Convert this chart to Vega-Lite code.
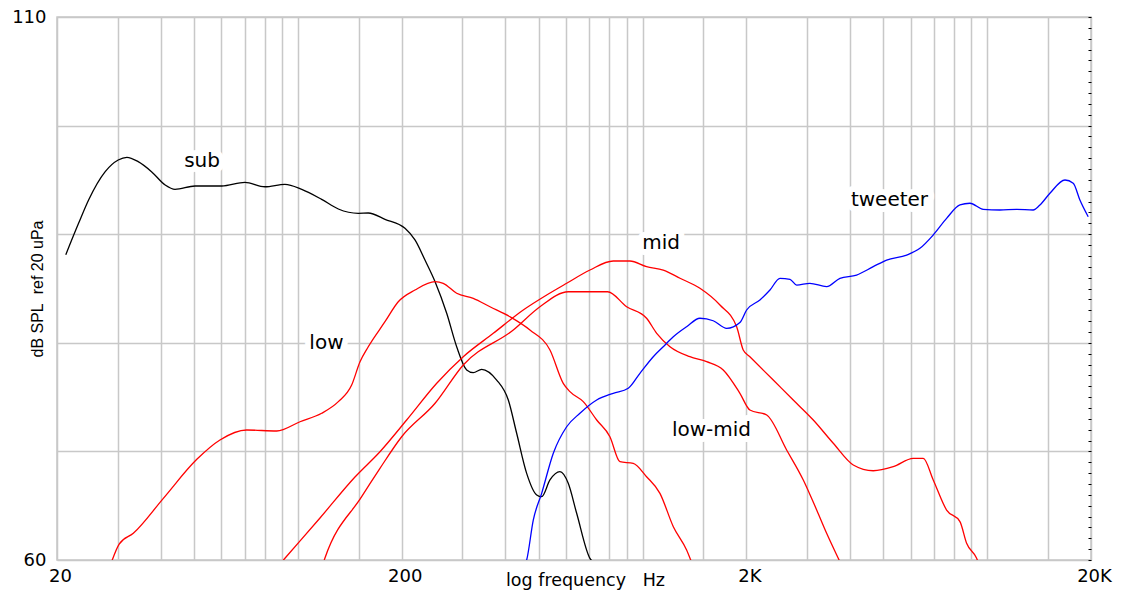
{
  "$schema": "https://vega.github.io/schema/vega-lite/v6.json",
  "width": 1034,
  "height": 543,
  "autosize": "none",
  "padding": {"left": 57, "top": 17, "right": 33, "bottom": 31},
  "background": "white",
  "config": {
    "view": {"stroke": "#c8c8c8", "strokeWidth": 1.5},
    "font": "DejaVu Sans"
  },
  "datasets": {
    "curves": [
      {"band": "sub", "freq": 21.2, "db": 88.1},
      {"band": "sub", "freq": 23.1, "db": 91.0},
      {"band": "sub", "freq": 24.7, "db": 93.15},
      {"band": "sub", "freq": 27.6, "db": 95.76},
      {"band": "sub", "freq": 30.1, "db": 96.83},
      {"band": "sub", "freq": 31.9, "db": 97.08},
      {"band": "sub", "freq": 34.4, "db": 96.68},
      {"band": "sub", "freq": 37.6, "db": 95.76},
      {"band": "sub", "freq": 41.2, "db": 94.53},
      {"band": "sub", "freq": 44.0, "db": 94.13},
      {"band": "sub", "freq": 50.3, "db": 94.44},
      {"band": "sub", "freq": 60.1, "db": 94.44},
      {"band": "sub", "freq": 70.2, "db": 94.78},
      {"band": "sub", "freq": 80.2, "db": 94.37},
      {"band": "sub", "freq": 91.7, "db": 94.59},
      {"band": "sub", "freq": 102.6, "db": 94.13},
      {"band": "sub", "freq": 117.2, "db": 93.21},
      {"band": "sub", "freq": 131, "db": 92.32},
      {"band": "sub", "freq": 149.7, "db": 91.92},
      {"band": "sub", "freq": 160, "db": 91.95},
      {"band": "sub", "freq": 178.9, "db": 91.37},
      {"band": "sub", "freq": 204.5, "db": 90.54},
      {"band": "sub", "freq": 218.6, "db": 89.47},
      {"band": "sub", "freq": 233.7, "db": 87.62},
      {"band": "sub", "freq": 250, "db": 85.63},
      {"band": "sub", "freq": 270.2, "db": 82.72},
      {"band": "sub", "freq": 288.8, "db": 79.64},
      {"band": "sub", "freq": 308.8, "db": 77.5},
      {"band": "sub", "freq": 322.7, "db": 77.25},
      {"band": "sub", "freq": 341.3, "db": 77.56},
      {"band": "sub", "freq": 377.3, "db": 76.57},
      {"band": "sub", "freq": 407.8, "db": 74.73},
      {"band": "sub", "freq": 431.2, "db": 71.67},
      {"band": "sub", "freq": 461, "db": 67.98},
      {"band": "sub", "freq": 493, "db": 65.99},
      {"band": "sub", "freq": 509.6, "db": 65.83},
      {"band": "sub", "freq": 538.6, "db": 67.37},
      {"band": "sub", "freq": 575.8, "db": 68.13},
      {"band": "sub", "freq": 608.6, "db": 67.06},
      {"band": "sub", "freq": 643.8, "db": 64.3},
      {"band": "sub", "freq": 703.6, "db": 60.15},
      {"band": "sub", "freq": 727.6, "db": 59.7},
      {"band": "low", "freq": 28.7, "db": 59.7},
      {"band": "low", "freq": 30.3, "db": 61.47},
      {"band": "low", "freq": 33.3, "db": 62.46},
      {"band": "low", "freq": 40.7, "db": 65.68},
      {"band": "low", "freq": 50.9, "db": 69.27},
      {"band": "low", "freq": 59.4, "db": 71.05},
      {"band": "low", "freq": 71.0, "db": 71.97},
      {"band": "low", "freq": 86.8, "db": 71.88},
      {"band": "low", "freq": 101.4, "db": 72.73},
      {"band": "low", "freq": 117.2, "db": 73.51},
      {"band": "low", "freq": 131, "db": 74.58},
      {"band": "low", "freq": 143.2, "db": 76.11},
      {"band": "low", "freq": 151.4, "db": 78.26},
      {"band": "low", "freq": 160, "db": 79.64},
      {"band": "low", "freq": 178.9, "db": 81.94},
      {"band": "low", "freq": 195.5, "db": 83.78},
      {"band": "low", "freq": 218.6, "db": 84.86},
      {"band": "low", "freq": 250, "db": 85.63},
      {"band": "low", "freq": 264, "db": 85.48},
      {"band": "low", "freq": 288.8, "db": 84.56},
      {"band": "low", "freq": 322.7, "db": 84.1},
      {"band": "low", "freq": 360.8, "db": 83.32},
      {"band": "low", "freq": 412.4, "db": 82.4},
      {"band": "low", "freq": 471.2, "db": 81.18},
      {"band": "low", "freq": 538.6, "db": 79.34},
      {"band": "low", "freq": 588.6, "db": 76.27},
      {"band": "low", "freq": 615.5, "db": 75.5},
      {"band": "low", "freq": 672.8, "db": 74.58},
      {"band": "low", "freq": 736, "db": 72.89},
      {"band": "low", "freq": 804, "db": 71.35},
      {"band": "low", "freq": 859.6, "db": 69.05},
      {"band": "low", "freq": 939.6, "db": 68.9},
      {"band": "low", "freq": 1027, "db": 67.67},
      {"band": "low", "freq": 1123, "db": 66.14},
      {"band": "low", "freq": 1228, "db": 63.07},
      {"band": "low", "freq": 1342, "db": 60.92},
      {"band": "low", "freq": 1391, "db": 59.7},
      {"band": "mid", "freq": 88.7, "db": 59.63},
      {"band": "mid", "freq": 91.7, "db": 60.16},
      {"band": "mid", "freq": 115.9, "db": 63.87},
      {"band": "mid", "freq": 146.4, "db": 67.64},
      {"band": "mid", "freq": 173, "db": 69.97},
      {"band": "mid", "freq": 206.8, "db": 72.89},
      {"band": "mid", "freq": 252.8, "db": 76.27},
      {"band": "mid", "freq": 301.8, "db": 78.72},
      {"band": "mid", "freq": 368.8, "db": 80.87},
      {"band": "mid", "freq": 450.6, "db": 83.02},
      {"band": "mid", "freq": 526.9, "db": 84.4},
      {"band": "mid", "freq": 602.2, "db": 85.48},
      {"band": "mid", "freq": 703.6, "db": 86.7},
      {"band": "mid", "freq": 822, "db": 87.53},
      {"band": "mid", "freq": 919, "db": 87.53},
      {"band": "mid", "freq": 1027, "db": 87.01},
      {"band": "mid", "freq": 1148, "db": 86.7},
      {"band": "mid", "freq": 1284, "db": 85.94},
      {"band": "mid", "freq": 1467, "db": 85.02},
      {"band": "mid", "freq": 1677, "db": 83.48},
      {"band": "mid", "freq": 1875, "db": 81.48},
      {"band": "mid", "freq": 1959, "db": 79.34},
      {"band": "mid", "freq": 2048, "db": 78.72},
      {"band": "mid", "freq": 2394, "db": 76.57},
      {"band": "mid", "freq": 2736, "db": 74.73},
      {"band": "mid", "freq": 3128, "db": 72.89},
      {"band": "mid", "freq": 3575, "db": 70.75},
      {"band": "mid", "freq": 4086, "db": 68.75},
      {"band": "mid", "freq": 4669, "db": 68.22},
      {"band": "mid", "freq": 5336, "db": 68.59},
      {"band": "mid", "freq": 6100, "db": 69.36},
      {"band": "mid", "freq": 6521, "db": 69.36},
      {"band": "mid", "freq": 6971, "db": 67.37},
      {"band": "mid", "freq": 7622, "db": 64.6},
      {"band": "mid", "freq": 8333, "db": 63.53},
      {"band": "mid", "freq": 8713, "db": 61.54},
      {"band": "mid", "freq": 9315, "db": 60.16},
      {"band": "mid", "freq": 9460, "db": 59.63},
      {"band": "low-mid", "freq": 118.2, "db": 59.63},
      {"band": "low-mid", "freq": 119.8, "db": 60.18},
      {"band": "low-mid", "freq": 153.1, "db": 65.83},
      {"band": "low-mid", "freq": 173, "db": 68.44},
      {"band": "low-mid", "freq": 200, "db": 71.35},
      {"band": "low-mid", "freq": 250, "db": 74.43},
      {"band": "low-mid", "freq": 301.8, "db": 77.96},
      {"band": "low-mid", "freq": 421.6, "db": 81.18},
      {"band": "low-mid", "freq": 503.8, "db": 83.32},
      {"band": "low-mid", "freq": 608.6, "db": 84.7},
      {"band": "low-mid", "freq": 791.8, "db": 84.7},
      {"band": "low-mid", "freq": 899, "db": 83.32},
      {"band": "low-mid", "freq": 1027, "db": 82.26},
      {"band": "low-mid", "freq": 1099, "db": 80.87},
      {"band": "low-mid", "freq": 1201, "db": 79.64},
      {"band": "low-mid", "freq": 1372, "db": 78.72},
      {"band": "low-mid", "freq": 1534, "db": 78.26},
      {"band": "low-mid", "freq": 1714, "db": 77.5},
      {"band": "low-mid", "freq": 1916, "db": 75.35},
      {"band": "low-mid", "freq": 2048, "db": 73.81},
      {"band": "low-mid", "freq": 2292, "db": 73.35},
      {"band": "low-mid", "freq": 2618, "db": 70.13},
      {"band": "low-mid", "freq": 2926, "db": 67.37},
      {"band": "low-mid", "freq": 3200, "db": 64.6},
      {"band": "low-mid", "freq": 3420, "db": 62.46},
      {"band": "low-mid", "freq": 3696, "db": 60.16},
      {"band": "low-mid", "freq": 3764, "db": 59.63},
      {"band": "tweeter", "freq": 455.8, "db": 59.54},
      {"band": "tweeter", "freq": 461, "db": 60.0},
      {"band": "tweeter", "freq": 481.8, "db": 63.68},
      {"band": "tweeter", "freq": 509.6, "db": 66.14},
      {"band": "tweeter", "freq": 550.8, "db": 69.83},
      {"band": "tweeter", "freq": 602.2, "db": 72.27},
      {"band": "tweeter", "freq": 658, "db": 73.51},
      {"band": "tweeter", "freq": 736, "db": 74.73},
      {"band": "tweeter", "freq": 822, "db": 75.35},
      {"band": "tweeter", "freq": 908.8, "db": 75.81},
      {"band": "tweeter", "freq": 982.4, "db": 77.19},
      {"band": "tweeter", "freq": 1074, "db": 78.72},
      {"band": "tweeter", "freq": 1148, "db": 79.64},
      {"band": "tweeter", "freq": 1228, "db": 80.56},
      {"band": "tweeter", "freq": 1342, "db": 81.48},
      {"band": "tweeter", "freq": 1467, "db": 82.26},
      {"band": "tweeter", "freq": 1603, "db": 82.03},
      {"band": "tweeter", "freq": 1754, "db": 81.33},
      {"band": "tweeter", "freq": 1916, "db": 81.87},
      {"band": "tweeter", "freq": 2004, "db": 83.02},
      {"band": "tweeter", "freq": 2190, "db": 83.94},
      {"band": "tweeter", "freq": 2342, "db": 84.86},
      {"band": "tweeter", "freq": 2504, "db": 85.94},
      {"band": "tweeter", "freq": 2677, "db": 85.85},
      {"band": "tweeter", "freq": 2799, "db": 85.32},
      {"band": "tweeter", "freq": 3058, "db": 85.48},
      {"band": "tweeter", "freq": 3420, "db": 85.17},
      {"band": "tweeter", "freq": 3738, "db": 85.94},
      {"band": "tweeter", "freq": 4178, "db": 86.24},
      {"band": "tweeter", "freq": 4669, "db": 87.01},
      {"band": "tweeter", "freq": 5106, "db": 87.62},
      {"band": "tweeter", "freq": 5838, "db": 88.08},
      {"band": "tweeter", "freq": 6378, "db": 88.7},
      {"band": "tweeter", "freq": 6971, "db": 89.93},
      {"band": "tweeter", "freq": 7622, "db": 91.46},
      {"band": "tweeter", "freq": 8333, "db": 92.69},
      {"band": "tweeter", "freq": 8906, "db": 92.85},
      {"band": "tweeter", "freq": 9736, "db": 92.29},
      {"band": "tweeter", "freq": 10880, "db": 92.23},
      {"band": "tweeter", "freq": 12170, "db": 92.29},
      {"band": "tweeter", "freq": 13590, "db": 92.23},
      {"band": "tweeter", "freq": 14220, "db": 92.69},
      {"band": "tweeter", "freq": 15200, "db": 93.77},
      {"band": "tweeter", "freq": 16810, "db": 94.99},
      {"band": "tweeter", "freq": 17760, "db": 94.69},
      {"band": "tweeter", "freq": 18570, "db": 93.15},
      {"band": "tweeter", "freq": 19630, "db": 91.61}
    ],
    "labels": [
      {"label": "sub", "freq": 52.7, "db": 96.74},
      {"label": "low", "freq": 121, "db": 79.94},
      {"label": "mid", "freq": 1131, "db": 89.19},
      {"label": "low-mid", "freq": 1584, "db": 71.97},
      {"label": "tweeter", "freq": 5204, "db": 93.15}
    ]
  },
  "encoding": {
    "x": {
      "field": "freq",
      "type": "quantitative",
      "scale": {"type": "log", "domain": [20, 20000], "nice": false},
      "axis": {
        "values": [20, 30, 40, 50, 60, 70, 80, 90, 100, 150, 200, 300, 400, 500, 600, 700, 800, 900, 1000, 1500, 2000, 3000, 4000, 5000, 6000, 7000, 8000, 9000, 10000, 15000, 20000],
        "grid": true,
        "gridColor": "#c8c8c8",
        "gridWidth": 1.5,
        "ticks": false,
        "domain": false,
        "labelExpr": "datum.value == 20 ? '20' : datum.value == 200 ? '200' : datum.value == 2000 ? '2K' : datum.value == 20000 ? '20K' : ''",
        "labelFont": "DejaVu Sans",
        "labelFontSize": 18,
        "labelColor": "#000000",
        "labelPadding": 7,
        "labelOffset": 3,
        "labelFlush": false,
        "labelOverlap": false,
        "labelBound": false,
        "title": "log frequency\u00a0\u00a0\u00a0Hz",
        "titleFont": "DejaVu Sans",
        "titleFontSize": 17.5,
        "titleFontWeight": "normal",
        "titleColor": "#000000",
        "titleX": 528,
        "titleY": 25,
        "titleAlign": "center",
        "titleBaseline": "alphabetic"
      }
    }
  },
  "layer": [
    {
      "data": {"name": "labels"},
      "mark": {"type": "text", "fontSize": 20, "font": "DejaVu Sans", "stroke": "white", "strokeWidth": 12, "strokeJoin": "round", "fill": "white", "align": "center", "baseline": "middle"},
      "encoding": {
        "y": {
          "field": "db",
          "type": "quantitative",
          "scale": {"domain": [60, 110], "nice": false, "zero": false},
          "axis": {
            "orient": "right",
            "values": [60, 61, 62, 63, 64, 65, 66, 67, 68, 69, 70, 71, 72, 73, 74, 75, 76, 77, 78, 79, 80, 81, 82, 83, 84, 85, 86, 87, 88, 89, 90, 91, 92, 93, 94, 95, 96, 97, 98, 99, 100, 101, 102, 103, 104, 105, 106, 107, 108, 109, 110],
            "labels": false,
            "ticks": true,
            "tickSize": 3,
            "tickColor": "#000000",
            "tickWidth": 1,
            "domain": false,
            "grid": false,
            "title": null,
            "offset": -3
          }
        },
        "text": {"field": "label"}
      }
    },
    {
      "data": {"name": "curves"},
      "mark": {"type": "line", "clip": true, "strokeWidth": 1.3, "interpolate": "monotone"},
      "encoding": {
        "y": {
          "field": "db",
          "type": "quantitative",
          "scale": {"domain": [60, 110], "nice": false, "zero": false},
          "axis": {
            "orient": "left",
            "values": [60, 70, 80, 90, 100, 110],
            "grid": true,
            "gridColor": "#c8c8c8",
            "gridWidth": 1.5,
            "ticks": false,
            "domain": false,
            "labelExpr": "datum.value == 60 || datum.value == 110 ? datum.label : ''",
            "labelFont": "DejaVu Sans",
            "labelFontSize": 18,
            "labelColor": "#000000",
            "labelPadding": 11,
            "labelFlush": false,
            "labelOverlap": false,
            "title": "dB SPL\u00a0 ref 20 uPa",
            "titleFont": "Liberation Sans",
            "titleFontSize": 16,
            "titleFontWeight": "normal",
            "titleColor": "#000000",
            "titleAngle": -90,
            "titleX": -28,
            "titleY": 271.5,
            "titleAlign": "center",
            "titleBaseline": "top"
          }
        },
        "color": {
          "field": "band",
          "type": "nominal",
          "scale": {"domain": ["sub", "low", "low-mid", "mid", "tweeter"], "range": ["#000000", "#ff0000", "#ff0000", "#ff0000", "#0000ff"]},
          "legend": null
        }
      }
    },
    {
      "data": {"name": "labels"},
      "mark": {"type": "text", "fontSize": 20, "font": "DejaVu Sans", "fill": "#000000", "align": "center", "baseline": "middle"},
      "encoding": {
        "y": {"field": "db", "type": "quantitative", "scale": {"domain": [60, 110], "nice": false, "zero": false}, "axis": null},
        "text": {"field": "label"}
      }
    }
  ],
  "resolve": {"axis": {"y": "independent"}}
}
